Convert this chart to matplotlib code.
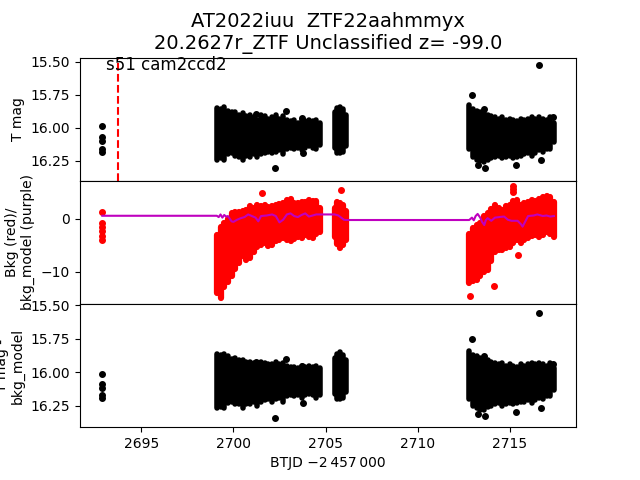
import numpy as np
import matplotlib
matplotlib.use('Agg')
import matplotlib.pyplot as plt

# --- data (BTJD - 2457000) ---
# first few points of the sector
t_start = [2692.88, 2692.88, 2692.88, 2692.88, 2692.88]
mag_start = [15.99, 16.07, 16.10, 16.16, 16.18]
sub_start = [16.01, 16.09, 16.12, 16.17, 16.19]
err_start = [0.015, 0.015, 0.015, 0.015, 0.015]
bkg_start_t = [2692.88, 2692.88, 2692.88, 2692.88, 2692.88, 2692.88]
bkg_start = [1.2, -0.9, -1.6, -2.4, -3.3, -4.0]

# dense stretches: time, upper/lower envelope of T mag, of T mag - bkg_model, of bkg
t_a = [2699.1, 2699.3, 2699.5, 2699.7, 2699.9, 2700.1, 2700.3, 2700.5, 2700.7, 2700.9,
       2701.1, 2701.3, 2701.5, 2701.7, 2701.9, 2702.1, 2702.3, 2702.5, 2702.7, 2702.9,
       2703.1, 2703.3, 2703.5, 2703.7, 2703.9, 2704.1, 2704.3, 2704.5, 2704.7]
mag_a_top = [15.85, 15.86, 15.84, 15.87, 15.88, 15.88, 15.90, 15.89, 15.91, 15.90,
             15.92, 15.94, 15.90, 15.91, 15.93, 15.92, 15.90, 15.93, 15.91, 15.94,
             15.95, 15.94, 15.96, 15.94, 15.95, 15.94, 15.95, 15.94, 15.96]
mag_a_bot = [16.24, 16.23, 16.24, 16.20, 16.19, 16.21, 16.22, 16.24, 16.21, 16.22,
             16.20, 16.22, 16.20, 16.19, 16.18, 16.19, 16.18, 16.17, 16.20, 16.16,
             16.15, 16.16, 16.15, 16.17, 16.15, 16.14, 16.15, 16.16, 16.13]
sub_a_top = [15.86, 15.87, 15.86, 15.88, 15.90, 15.89, 15.91, 15.91, 15.92, 15.92,
             15.93, 15.95, 15.92, 15.93, 15.94, 15.94, 15.92, 15.94, 15.93, 15.95,
             15.96, 15.96, 15.97, 15.95, 15.96, 15.95, 15.96, 15.95, 15.97]
sub_a_bot = [16.27, 16.26, 16.27, 16.23, 16.22, 16.24, 16.24, 16.27, 16.24, 16.24,
             16.22, 16.25, 16.22, 16.21, 16.20, 16.22, 16.20, 16.19, 16.22, 16.18,
             16.17, 16.18, 16.17, 16.19, 16.17, 16.16, 16.17, 16.19, 16.17]
bkg_a_hi = [-3.0, -1.5, -0.8, 0.0, 1.1, 1.2, 1.3, 1.5, 1.6, 2.3,
            2.0, 2.6, 2.4, 2.6, 2.2, 2.3, 2.5, 2.7, 2.9, 3.5,
            3.8, 3.0, 2.9, 3.2, 3.1, 3.5, 3.4, 3.3, 2.0]
bkg_a_lo = [-14.0, -15.0, -12.8, -12.0, -10.9, -9.5, -8.4, -7.0, -7.8, -7.5,
            -6.2, -5.3, -5.0, -4.6, -5.2, -5.0, -4.2, -4.0, -3.7, -4.0,
            -4.3, -3.8, -3.4, -3.6, -3.1, -3.5, -3.7, -2.8, -2.5]

t_b = [2705.5, 2705.65, 2705.8, 2705.95, 2706.1]
mag_b_top = [15.88, 15.85, 15.84, 15.86, 15.90]
mag_b_bot = [16.15, 16.19, 16.19, 16.18, 16.14]
sub_b_top = [15.89, 15.86, 15.85, 15.87, 15.91]
sub_b_bot = [16.16, 16.20, 16.20, 16.19, 16.15]
bkg_b_hi = [2.0, 3.2, 3.0, 2.5, 1.5]
bkg_b_lo = [-3.5, -4.8, -5.6, -5.0, -4.0]

t_c = [2712.8, 2713.0, 2713.2, 2713.4, 2713.6, 2713.8, 2714.0, 2714.2, 2714.4, 2714.6,
       2714.8, 2715.0, 2715.2, 2715.4, 2715.6, 2715.8, 2716.0, 2716.2, 2716.4, 2716.6,
       2716.8, 2717.0, 2717.2, 2717.4]
mag_c_top = [15.83, 15.86, 15.87, 15.88, 15.88, 15.90, 15.91, 15.92, 15.93, 15.92,
             15.94, 15.93, 15.94, 15.95, 15.93, 15.94, 15.93, 15.92, 15.93, 15.92,
             15.93, 15.94, 15.92, 15.96]
mag_c_bot = [16.16, 16.22, 16.24, 16.25, 16.26, 16.24, 16.23, 16.22, 16.21, 16.23,
             16.22, 16.21, 16.23, 16.22, 16.21, 16.20, 16.19, 16.21, 16.19, 16.17,
             16.18, 16.16, 16.16, 16.11]
sub_c_top = [15.84, 15.87, 15.88, 15.89, 15.89, 15.91, 15.92, 15.93, 15.94, 15.93,
             15.95, 15.94, 15.95, 15.96, 15.94, 15.95, 15.94, 15.93, 15.94, 15.93,
             15.94, 15.95, 15.93, 15.97]
sub_c_bot = [16.20, 16.25, 16.27, 16.28, 16.28, 16.26, 16.25, 16.24, 16.23, 16.25,
             16.24, 16.23, 16.24, 16.23, 16.22, 16.22, 16.21, 16.23, 16.21, 16.19,
             16.20, 16.18, 16.18, 16.13]
bkg_c_hi = [-2.8, -1.8, -1.2, -0.9, 0.5, 1.0, 1.8, 2.6, 2.0, 1.6,
            2.4, 2.6, 3.3, 3.5, 2.6, 3.0, 3.2, 3.5, 3.4, 3.8,
            4.0, 4.2, 4.0, 3.1]
bkg_c_lo = [-12.2, -11.8, -11.5, -10.9, -10.0, -9.7, -8.0, -6.2, -6.0, -5.9,
            -5.5, -5.3, -4.5, -4.0, -4.6, -4.0, -3.7, -3.3, -3.1, -3.4,
            -3.0, -2.5, -2.8, -3.4]

# isolated points standing out of the clouds
out_t = [2701.25, 2702.24, 2702.87, 2703.74, 2703.80, 2712.93, 2713.26, 2713.62,
         2713.67, 2715.34, 2716.60, 2716.69, 2717.33]
out_mag = [15.895, 16.30, 15.875, 15.925, 16.19, 15.75, 16.28, 15.86,
           16.30, 16.28, 15.525, 16.24, 15.92]
out_sub = [15.92, 16.34, 15.90, 15.95, 16.23, 15.755, 16.31, 15.88,
           16.33, 16.30, 15.555, 16.27, 15.94]
out_err = [0.015] * len(out_t)
bkg_out_t = [2701.55, 2705.82, 2712.85, 2714.17, 2715.2, 2715.2, 2715.2, 2715.46]
bkg_out = [4.8, 5.5, -14.6, -12.7, 6.2, 5.6, 5.0, -6.9]

# background model (purple line)
model_t = [2692.88, 2699.1, 2699.2, 2699.3, 2699.4, 2699.5, 2699.6, 2699.7, 2699.8,
           2699.9, 2700.0, 2700.2, 2700.4, 2700.6, 2700.8, 2701.0, 2701.2, 2701.35,
           2701.5, 2701.8, 2702.1, 2702.3, 2702.5, 2702.7, 2702.9, 2703.1, 2703.3,
           2703.5, 2703.7, 2703.9, 2704.1, 2704.3, 2704.5, 2704.7, 2705.5, 2705.7,
           2705.85, 2706.0, 2706.1, 2712.8, 2712.95, 2713.05, 2713.15, 2713.26,
           2713.4, 2713.5, 2713.62, 2713.7, 2713.8, 2714.0, 2714.2, 2714.53, 2714.7,
           2714.9, 2715.1, 2715.43, 2715.6, 2715.7, 2715.85, 2716.0, 2716.3, 2716.5,
           2716.8, 2717.0, 2717.2, 2717.4]
model_v = [0.55, 0.55, 0.3, 0.8, 0.2, 0.7, 0.4, 0.5, 0.0,
           -0.5, -0.6, -0.2, 0.1, 0.3, 0.8, 0.5, 0.2, -0.5,
           0.5, 0.6, 0.8, 0.5, -0.7, -0.2, 0.8, 1.0, 0.5,
           0.3, 0.7, 1.0, 0.4, 0.6, 0.8, 0.8, 0.8, 0.6,
           0.2, -0.2, -0.25, -0.25, 0.2, -0.3, 0.5, 0.9,
           0.2, -0.6, -1.2, -0.3, 0.1, -0.4, 0.2, 0.35, 0.4,
           -0.2, -0.4, -0.4, -1.0, -1.5, -0.5, 0.5, 0.6, 0.8,
           0.5, 0.6, 0.4, 0.5]

sector_start = 2693.71

fig, axes = plt.subplots(3, 1, sharex=True, figsize=(6.4, 4.8), dpi=100)
fig.subplots_adjust(hspace=0)
ax1, ax2, ax3 = axes

# top: T mag
for t, lo, hi in [(t_a, mag_a_top, mag_a_bot), (t_b, mag_b_top, mag_b_bot), (t_c, mag_c_top, mag_c_bot)]:
    ax1.vlines(t, lo, hi, color='k', lw=4, capstyle='round')
ax1.errorbar(t_start, mag_start, yerr=err_start, fmt='.', color='k', ms=8, elinewidth=2)
ax1.errorbar(out_t, out_mag, yerr=out_err, fmt='.', color='k', ms=8, elinewidth=2)
ax1.axvline(sector_start, color='r', ls='--', lw=1.5)
ax1.text(2693.06, 15.56, 's51 cam2ccd2', fontsize=12)
ax1.set_ylim(16.40, 15.47)
ax1.set_ylabel('T mag')
ax1.set_title('AT2022iuu  ZTF22aahmmyx\n20.2627r_ZTF Unclassified z= -99.0', fontsize=14)

# middle: background and model
for t, lo, hi in [(t_a, bkg_a_lo, bkg_a_hi), (t_b, bkg_b_lo, bkg_b_hi), (t_c, bkg_c_lo, bkg_c_hi)]:
    ax2.vlines(t, lo, hi, color='r', lw=4.5, capstyle='round')
ax2.plot(bkg_start_t, bkg_start, '.', color='r', ms=8)
ax2.plot(bkg_out_t, bkg_out, '.', color='r', ms=8)
ax2.plot(model_t, model_v, color='m', lw=1.5)
ax2.set_ylim(-16.1, 7.15)
ax2.set_ylabel('Bkg (red)/\nbkg_model (purple)')

# bottom: T mag - bkg_model
for t, lo, hi in [(t_a, sub_a_top, sub_a_bot), (t_b, sub_b_top, sub_b_bot), (t_c, sub_c_top, sub_c_bot)]:
    ax3.vlines(t, lo, hi, color='k', lw=4, capstyle='round')
ax3.errorbar(t_start, sub_start, yerr=err_start, fmt='.', color='k', ms=8, elinewidth=2)
ax3.errorbar(out_t, out_sub, yerr=out_err, fmt='.', color='k', ms=8, elinewidth=2)
ax3.set_ylim(16.41, 15.49)
ax3.set_ylabel('T mag -\nbkg_model')
ax3.set_xlim(2691.67, 2718.6)
ax3.set_xlabel('BTJD \u22122\u2009457\u2009000')

plt.savefig('out.png', dpi=100)
